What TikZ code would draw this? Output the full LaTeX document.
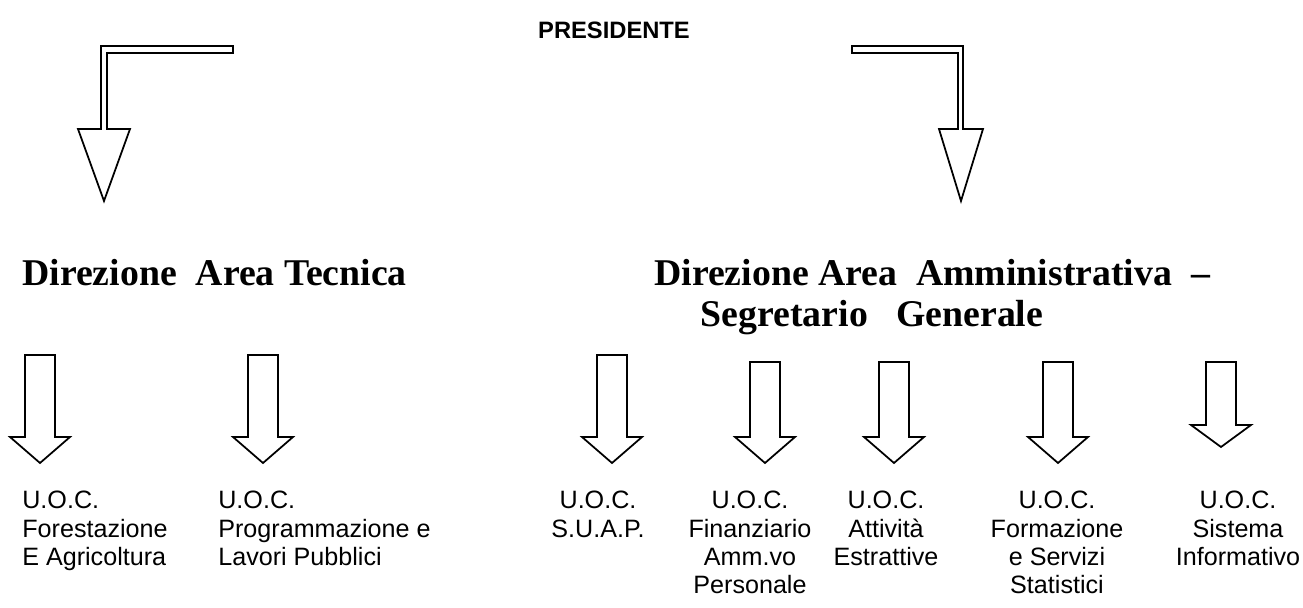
\documentclass[tikz,border=0pt]{standalone}
\usepackage{fontspec}
\setmainfont{Liberation Serif}
\setsansfont{Liberation Sans}
\tikzset{
    arrowline/.style={draw=black, line width=1pt, line join=miter, fill=white},
    headtext/.style={font=\bfseries\fontsize{21.5}{25}\selectfont, inner sep=0pt},
    uoctext/.style={font=\sffamily\fontsize{14.3}{16}\selectfont, inner sep=0pt, anchor=north},
}
\begin{document}
\begin{tikzpicture}[x=0.02cm, y=-0.02cm]
    \useasboundingbox (0,0) rectangle (1303,608);

    % Top level
    \node[font=\sffamily\bfseries\fontsize{13.5}{15}\selectfont, inner sep=0pt] (pres) at (614,30) {PRESIDENTE};

    % Bent arrows from the president
    \draw[arrowline] (233,46) -- (101,46) -- (101,129) -- (78,129) -- (104,201)
        -- (130,129) -- (107,129) -- (107,53) -- (233,53) -- cycle;
    \draw[arrowline] (852,46) -- (963,46) -- (963,129) -- (983,129) -- (961,201)
        -- (939,129) -- (958,129) -- (958,53) -- (852,53) -- cycle;

    % Directions
    \node[headtext, anchor=west] (dtec) at (22,273) {Direzione\ \ Area Tecnica};
    \node[headtext, anchor=west] (damm) at (654,273) {Direzione Area\ \ Amministrativa\ \ --};
    \node[headtext] (dseg) at (872,318) {Segretario\ \ \ Generale};

    % Block arrows to the units (x / top / shaft end / tip)
    \foreach \x/\t/\b/\p in {40/355/437/463, 263/355/437/463, 612/355/437/463,
        765/362/437/463, 894/362/437/463, 1058/362/437/463, 1221/362/425/447} {
        \draw[arrowline] (\x-15,\t) -- (\x+15,\t) -- (\x+15,\b) -- (\x+30,\b)
            -- (\x,\p) -- (\x-30,\b) -- (\x-15,\b) -- cycle;
    }

    % Units
    \node[uoctext, align=left, anchor=north west] (fore) at (22,491) {U.O.C.\\Forestazione\\E Agricoltura};
    \node[uoctext, align=left, anchor=north west] (prog) at (218,491) {U.O.C.\\Programmazione e\\Lavori Pubblici};
    \node[uoctext, align=center] (suap) at (598,491) {U.O.C.\\S.U.A.P.};
    \node[uoctext, align=center] (fina) at (750,491) {U.O.C.\\Finanziario\\Amm.vo\\Personale};
    \node[uoctext, align=center] (estr) at (886,491) {U.O.C.\\Attività\\Estrattive};
    \node[uoctext, align=center] (form) at (1057,491) {U.O.C.\\Formazione\\e Servizi\\Statistici};
    \node[uoctext, align=center] (sist) at (1238,491) {U.O.C.\\Sistema\\Informativo};
\end{tikzpicture}
\end{document}
